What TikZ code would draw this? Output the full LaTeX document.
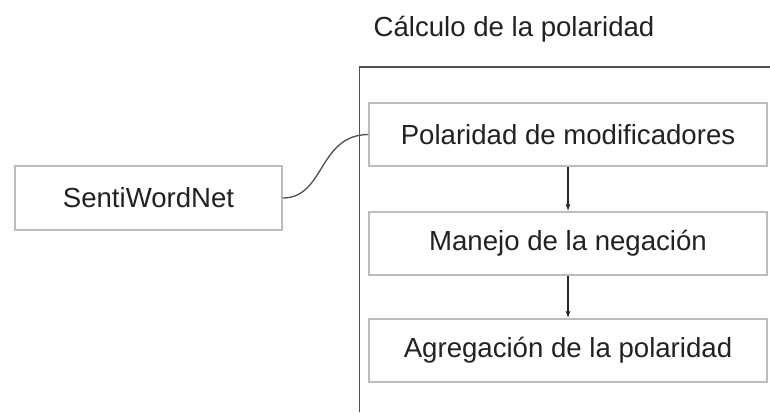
\documentclass[tikz,border=0pt]{standalone}
\usepackage{fontspec}
\setmainfont{Liberation Sans}
\usetikzlibrary{arrows.meta}
\definecolor{boxgray}{HTML}{BDBDBD}
\definecolor{framegray}{HTML}{505050}
\definecolor{txt}{HTML}{222222}
\begin{document}
\begin{tikzpicture}[x=1pt,y=-1pt,
  stepbox/.style={draw=boxgray,line width=1.5pt,fill=white,rectangle,inner sep=0pt,
    font=\fontsize{27.6}{30}\selectfont,text=txt},
  link/.style={draw=framegray,line width=1.3pt},
  flow/.style={draw=black!85,line width=1.3pt,-{Latex[length=7pt,width=5pt]}}]
\useasboundingbox (0,0) rectangle (770,412);
\fill[white] (0,0) rectangle (770,412);
% frame
\coordinate (fbl) at (359.5,412);
\coordinate (ftl) at (359.5,67);
\coordinate (ftr) at (770,67);
\draw[framegray,line width=1.8pt] (fbl) -- (ftl) -- (ftr);
\node[font=\fontsize{27.6}{30}\selectfont,text=txt,anchor=base] (title) at (514,36.5) {Cálculo de la polaridad};
% boxes
\node[stepbox,minimum width=398pt,minimum height=63pt] (b1) at (568,134.5) {Polaridad de modificadores};
\node[stepbox,minimum width=398pt,minimum height=63pt] (b2) at (568,243.5) {Manejo de la negación};
\node[stepbox,minimum width=398pt,minimum height=63pt] (b3) at (568,350.5) {Agregación de la polaridad};
\node[stepbox,minimum width=267pt,minimum height=64pt] (swn) at (148.5,198) {SentiWordNet};
% connectors
\draw[link] (swn.east) .. controls (325,198) and (318,135) .. (b1.west);
\draw[flow] (b1.south) -- (b2.north);
\draw[flow] (b2.south) -- (b3.north);
\end{tikzpicture}
\end{document}
